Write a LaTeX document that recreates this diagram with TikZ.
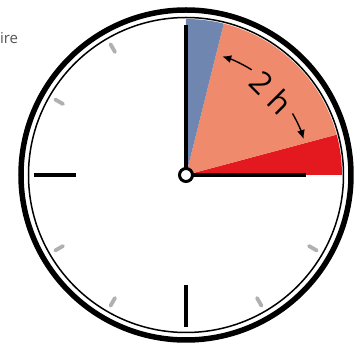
\documentclass[tikz,border=0pt]{standalone}
\usepackage{fontspec}
\setmainfont{Open Sans}
\usetikzlibrary{arrows.meta}
\definecolor{slate}{HTML}{6F86B0}
\definecolor{salmon}{HTML}{F08A6C}
\definecolor{clockred}{HTML}{E3191F}
\definecolor{tickgray}{HTML}{B0B0B0}
\definecolor{textgray}{HTML}{555555}
\begin{document}
\begin{tikzpicture}[x=1pt,y=1pt,
 hand/.style={line width=4pt},
 minortick/.style={line width=3.8pt, tickgray, line cap=round},
 majortick/.style={line width=4pt},
 dimarrow/.style={line width=1.4pt, -{Latex[length=9pt,width=8pt]}}]
\useasboundingbox (-186,-170) rectangle (171,175);
\clip (-186,-170) rectangle (171,175);
\fill[white] (-186,-170) rectangle (171,175);
\foreach \a in {30,60,120,150,210,240,300,330} \draw[minortick] (\a:142) -- (\a:151);
\draw[majortick] (180:110) -- (180:152);
\draw[majortick] (270:110) -- (270:152);
\fill[clockred] (0,0) -- (0:156) arc (0:15:156) -- cycle;
\fill[salmon] (0,0) -- (15:156) arc (15:76:156) -- cycle;
\fill[slate] (0,0) -- (76:156) arc (76:90:156) -- cycle;
\draw[line width=1.5pt] (0,0) circle (157.5);
\draw[line width=5.5pt] (0,0) circle (165);
\draw[hand] (0,0) -- (90:150);
\draw[hand] (0,0) -- (0:120);
\draw[line width=3pt, fill=white] (0,0) circle (6.5);
\draw[dimarrow] (58:124) arc (58:73:124);
\draw[dimarrow] (30:123) arc (30:17:123);
\node[rotate=-45, font=\fontsize{31}{34}\selectfont] (dur) at (44:119) {2 h};
\node[anchor=base west, text=textgray, font=\fontsize{15}{18}\selectfont, inner sep=0] (lbl) at (-194.5,131) {aire};
\end{tikzpicture}
\end{document}
